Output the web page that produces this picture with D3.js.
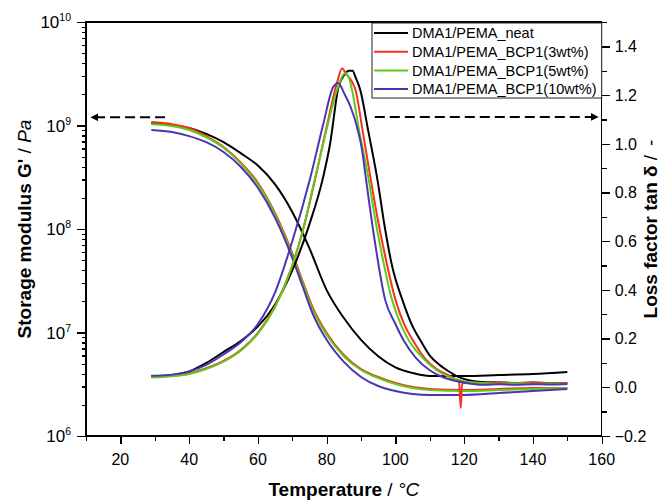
<!DOCTYPE html>
<meta charset="utf-8">
<style>
  body { margin: 0; background: #fff; }
  svg { font-family: "Liberation Sans", Arial, sans-serif; }
  .tick-label { font-size: 16px; fill: #000; }
  .axis-title { font-size: 19px; fill: #000; }
  .legend-text { font-size: 14.5px; fill: #000; }
  .series { fill: none; stroke-width: 2px; stroke-linejoin: round; }
  .axis path, .axis line { stroke: #000; stroke-width: 1.3px; shape-rendering: crispEdges; }
</style>
<body>
<div id="vis"></div>
<script src="https://cdn.jsdelivr.net/npm/d3@7"></script>
<script>

const width = 671, height = 502;
const margin = {l: 86, r: 70, t: 22, b: 66};

const seriesNames = ['DMA1/PEMA_neat', 'DMA1/PEMA_BCP1(3wt%)', 'DMA1/PEMA_BCP1(5wt%)', 'DMA1/PEMA_BCP1(10wt%)'];
const seriesColors = ['#000000', '#f5321e', '#62c81a', '#4a35b5'];

// storage modulus G' [Pa] vs temperature [°C]
const gNeat = [[29,1.06e9],[35,1.01e9],[40,0.946e9],[45,0.83e9],[50,0.69e9],[55,0.54e9],[60,0.41e9],[65,0.27e9],
  [70,0.146e9],[75,65e6],[80,25.7e6],[85,13.8e6],[90,8.5e6],[95,5.9e6],[100,4.6e6],[105,4.06e6],[110,3.8e6],
  [120,3.8e6],[130,3.88e6],[140,3.97e6],[150,4.15e6]];
const g3wt = [[29,1.08e9],[35,1.03e9],[40,0.946e9],[45,0.79e9],[50,0.62e9],[55,0.44e9],[60,0.28e9],[65,0.142e9],
  [70,58.5e6],[73,31.4e6],[76,17.3e6],[80,9.9e6],[85,6.06e6],[90,4.43e6],[95,3.72e6],[100,3.25e6],[105,2.97e6],
  [110,2.85e6],[120,2.78e6],[130,2.85e6],[140,2.91e6],[150,2.91e6]];
const g5wt = [[29,1.03e9],[35,0.99e9],[40,0.905e9],[45,0.77e9],[50,0.61e9],[55,0.43e9],[60,0.27e9],[65,0.137e9],
  [70,56e6],[73,30e6],[76,16.5e6],[80,9.5e6],[85,5.9e6],[90,4.34e6],[95,3.63e6],[100,3.18e6],[105,2.91e6],
  [110,2.78e6],[120,2.72e6],[130,2.78e6],[140,2.85e6],[150,2.91e6]];
const g10wt = [[29,0.905e9],[35,0.866e9],[40,0.79e9],[45,0.69e9],[50,0.555e9],[55,0.40e9],[60,0.25e9],[65,0.128e9],
  [70,52.5e6],[73,28e6],[76,15e6],[80,8.5e6],[85,5.2e6],[90,3.72e6],[95,3.04e6],[100,2.72e6],[105,2.55e6],
  [110,2.49e6],[120,2.49e6],[130,2.6e6],[140,2.72e6],[150,2.85e6]];

// loss factor tan delta vs temperature [°C]
const tNeat = [[29,0.045],[35,0.05],[40,0.065],[45,0.1],[50,0.145],[55,0.19],[60,0.25],[65,0.34],[70,0.48],
  [75,0.67],[79,0.864],[81,1.0],[83.4,1.23],[85,1.28],[86.5,1.30],[87.5,1.30],[88.5,1.27],[89.8,1.22],[92,1.06],
  [94.8,0.85],[97,0.65],[99,0.5],[102,0.36],[105,0.25],[107.4,0.19],[110,0.13],[113,0.09],[115,0.07],[118,0.045],
  [121,0.03],[125,0.022],[130,0.02],[135,0.018],[140,0.02],[145,0.017],[150,0.018]];
const t3wt = [[29,0.042],[35,0.047],[40,0.057],[45,0.078],[50,0.108],[55,0.153],[60,0.223],[65,0.333],[70,0.5],
  [73,0.64],[76.8,0.864],[80,1.07],[83,1.25],[84.5,1.31],[85.5,1.29],[88.4,1.22],[90.5,1.05],[92.7,0.864],
  [95,0.68],[97,0.54],[100,0.36],[102.5,0.26],[105.2,0.19],[108.5,0.12],[112,0.075],[116,0.045],[118.5,0.02],
  [119,-0.085],[119.4,0.015],[122,0.02],[125,0.018],[130,0.02],[135,0.016],[140,0.019],[145,0.016],[150,0.018]];
const t5wt = [[29,0.04],[35,0.045],[40,0.055],[45,0.075],[50,0.105],[55,0.15],[60,0.22],[65,0.33],[70,0.5],
  [73,0.64],[76.7,0.864],[80,1.06],[83,1.22],[85.4,1.29],[86.5,1.27],[87.4,1.22],[89.5,1.05],[92.1,0.864],
  [94,0.7],[96,0.55],[99,0.36],[101.5,0.26],[104,0.19],[108,0.12],[112,0.07],[116,0.04],[120,0.025],
  [125,0.018],[130,0.015],[135,0.017],[140,0.014],[145,0.016],[150,0.015]];
const t10wt = [[29,0.047],[35,0.052],[40,0.065],[45,0.092],[50,0.135],[55,0.185],[60,0.26],[65,0.39],[70,0.6],
  [75.3,0.864],[79,1.08],[81.9,1.233],[83.4,1.25],[85,1.21],[87,1.15],[89,1.06],[90.3,0.975],[91.3,0.87],
  [94,0.6],[97,0.36],[100,0.26],[102.5,0.19],[106,0.12],[110,0.07],[114,0.04],[118,0.025],[122,0.015],
  [126,0.01],[130,0.012],[135,0.01],[140,0.013],[145,0.011],[150,0.014]];

const modulusSeries = [gNeat, g3wt, g5wt, g10wt];
const tanSeries = [tNeat, t3wt, t5wt, t10wt];

const xTicks = [20, 40, 60, 80, 100, 120, 140, 160];
const xMinor = [10, 30, 50, 70, 90, 110, 130, 150];
const yLeftDecades = [1e6, 1e7, 1e8, 1e9, 1e10];
const yRightTicks = [-0.2, 0, 0.2, 0.4, 0.6, 0.8, 1.0, 1.2, 1.4];
const yRightMinor = [-0.1, 0.1, 0.3, 0.5, 0.7, 0.9, 1.1, 1.3, 1.5];

// arrows: [x0, x1, level]
const leftArrow = [33, 11.5, 1.2e9];
const rightArrow = [94, 158.9, 1.11];

const x = d3.scaleLinear().domain([10, 160]).range([margin.l, width - margin.r + 0.7]);
const yL = d3.scaleLog().domain([1e6, 1e10]).range([height - margin.b, margin.t]);
const yR = d3.scaleLinear().domain([-0.2, 1.5]).range([height - margin.b, margin.t]);

const x0 = x.range()[0], x1 = x.range()[1];
const yB = yL.range()[0], yT = yL.range()[1];

const svg = d3.select('#vis').append('svg')
    .attr('width', width)
    .attr('height', height);

const defs = svg.append('defs');
defs.append('marker')
    .attr('id', 'head')
    .attr('viewBox', '0 0 10 10')
    .attr('refX', 9).attr('refY', 5)
    .attr('markerWidth', 4).attr('markerHeight', 4)
    .attr('orient', 'auto')
  .append('path')
    .attr('d', 'M0,0 L10,5 L0,10 z')
    .attr('fill', '#000');

// series
const lineG = d3.line().x(d => x(d[0])).y(d => yL(d[1])).curve(d3.curveMonotoneX);
const lineT = d3.line().x(d => x(d[0])).y(d => yR(d[1])).curve(d3.curveMonotoneX);

const plotG = svg.append('g');
modulusSeries.forEach((s, i) => {
  plotG.append('path').attr('class', 'series').attr('d', lineG(s)).attr('stroke', seriesColors[i]);
});
tanSeries.forEach((s, i) => {
  plotG.append('path').attr('class', 'series').attr('d', lineT(s)).attr('stroke', seriesColors[i]);
});

// axes
const bottomMinor = svg.append('g').attr('class', 'axis')
    .attr('transform', 'translate(0,' + yB + ')')
    .call(d3.axisBottom(x).tickValues(xMinor).tickSize(5).tickFormat('').tickSizeOuter(0));
bottomMinor.select('.domain').remove();
const bottomMajor = svg.append('g').attr('class', 'axis')
    .attr('transform', 'translate(0,' + yB + ')')
    .call(d3.axisBottom(x).tickValues(xTicks).tickSize(8).tickFormat('').tickSizeOuter(0));
bottomMajor.select('.domain').remove();
svg.selectAll('.x-label')
  .data(xTicks)
  .enter().append('text')
    .attr('class', 'tick-label')
    .attr('x', d => x(d))
    .attr('y', yB + 29)
    .attr('text-anchor', 'middle')
    .text(d => d);

let minorLog = [];
yLeftDecades.slice(0, -1).forEach(dec => {
  for (let m = 2; m <= 9; m++) minorLog.push(m * dec);
});
const leftMinor = svg.append('g').attr('class', 'axis')
    .attr('transform', 'translate(' + x0 + ',0)')
    .call(d3.axisLeft(yL).tickValues(minorLog).tickSize(4).tickFormat('').tickSizeOuter(0));
leftMinor.select('.domain').remove();
const leftMajor = svg.append('g').attr('class', 'axis')
    .attr('transform', 'translate(' + x0 + ',0)')
    .call(d3.axisLeft(yL).tickValues(yLeftDecades).tickSize(9).tickFormat('').tickSizeOuter(0));
leftMajor.select('.domain').remove();
const leftLab = svg.selectAll('.y-label')
  .data(yLeftDecades)
  .enter().append('text')
    .attr('class', 'tick-label')
    .style('font-size', '17px')
    .attr('x', x0 - 15)
    .attr('y', d => yL(d) + 6)
    .attr('text-anchor', 'end');
leftLab.append('tspan').text('10');
leftLab.append('tspan').attr('dy', -7).style('font-size', '10.5px').text(d => Math.round(Math.log10(d)));

const rightMinor = svg.append('g').attr('class', 'axis')
    .attr('transform', 'translate(' + x1 + ',0)')
    .call(d3.axisRight(yR).tickValues(yRightMinor).tickSize(5).tickFormat('').tickSizeOuter(0));
rightMinor.select('.domain').remove();
const rightMajor = svg.append('g').attr('class', 'axis')
    .attr('transform', 'translate(' + x1 + ',0)')
    .call(d3.axisRight(yR).tickValues(yRightTicks).tickSize(8).tickFormat('').tickSizeOuter(0));
rightMajor.select('.domain').remove();
svg.selectAll('.r-label')
  .data(yRightTicks)
  .enter().append('text')
    .attr('class', 'tick-label')
    .attr('x', x1 + 13)
    .attr('y', d => yR(d))
    .attr('dy', '0.36em')
    .text(d => d3.format('.1f')(d));

// frame
svg.append('path')
    .attr('d', 'M' + x0 + ',' + yB + 'V' + yT + 'H' + x1 + 'V' + yB + 'Z')
    .attr('fill', 'none')
    .attr('stroke', '#000')
    .attr('stroke-width', 1.3)
    .attr('shape-rendering', 'crispEdges');

// dashed arrows
svg.append('line')
    .attr('x1', x(leftArrow[0])).attr('x2', x(leftArrow[1]))
    .attr('y1', yL(leftArrow[2])).attr('y2', yL(leftArrow[2]))
    .attr('stroke', '#000').attr('stroke-width', 2)
    .attr('stroke-dasharray', '10,5')
    .attr('marker-end', 'url(#head)');
svg.append('line')
    .attr('x1', x(rightArrow[0])).attr('x2', x(rightArrow[1]))
    .attr('y1', yR(rightArrow[2])).attr('y2', yR(rightArrow[2]))
    .attr('stroke', '#000').attr('stroke-width', 2)
    .attr('stroke-dasharray', '10,5')
    .attr('marker-end', 'url(#head)');

// legend
const legX = 372, legY = 23;
const legG = svg.append('g').attr('transform', 'translate(' + legX + ',' + legY + ')');
legG.append('rect')
    .attr('width', x1 - legX)
    .attr('height', 75)
    .attr('fill', '#fff')
    .attr('stroke', '#222')
    .attr('stroke-width', 1);
const legItems = legG.selectAll('.leg-item')
  .data(seriesNames)
  .enter().append('g')
    .attr('transform', (d, i) => 'translate(0,' + (10 + i * 18.7) + ')');
legItems.append('line')
    .attr('x1', 2).attr('x2', 36)
    .attr('stroke', (d, i) => seriesColors[i])
    .attr('stroke-width', 2);
legItems.append('text')
    .attr('class', 'legend-text')
    .attr('x', 40)
    .attr('dy', '0.36em')
    .text(d => d);

// axis titles
const xt = svg.append('text')
    .attr('class', 'axis-title')
    .attr('x', (x0 + x1) / 2)
    .attr('y', 496)
    .attr('text-anchor', 'middle');
xt.append('tspan').style('font-weight', 'bold').text('Temperature');
xt.append('tspan').text(' / ');
xt.append('tspan').style('font-style', 'italic').text('°C');

const ylt = svg.append('text')
    .attr('class', 'axis-title')
    .attr('text-anchor', 'middle')
    .attr('transform', 'translate(31,' + ((yB + yT) / 2) + ') rotate(-90)');
ylt.append('tspan').style('font-weight', 'bold').text("Storage modulus G'");
ylt.append('tspan').text(' / ');
ylt.append('tspan').style('font-style', 'italic').text('Pa');

const yrt = svg.append('text')
    .attr('class', 'axis-title')
    .attr('text-anchor', 'middle')
    .attr('transform', 'translate(657,' + ((yB + yT) / 2) + ') rotate(-90)');
yrt.append('tspan').style('font-weight', 'bold').text('Loss factor tan δ');
yrt.append('tspan').text(' /');
yrt.append('tspan').attr('dx', 9).text('-');

</script>
</body>
